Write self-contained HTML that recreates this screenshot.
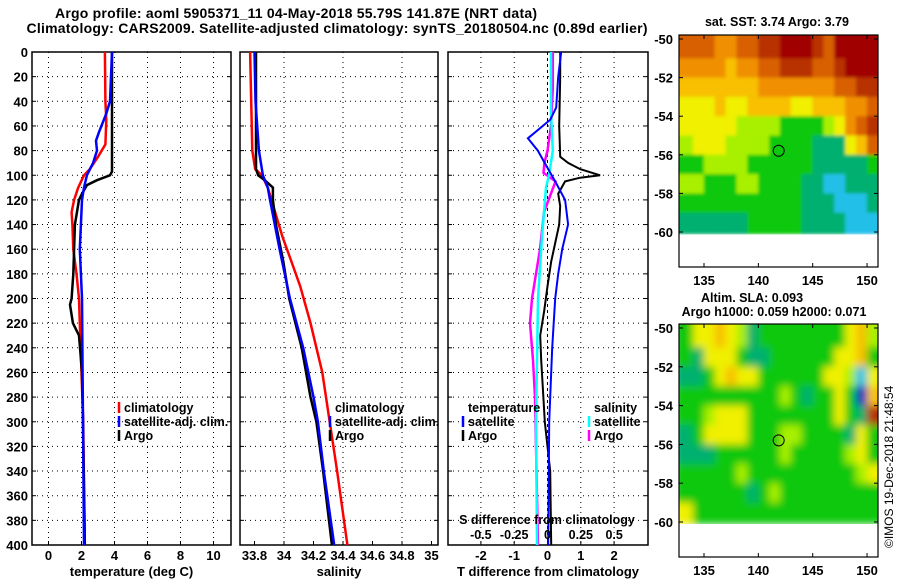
<!DOCTYPE html>
<html><head><meta charset="utf-8"><style>
body{margin:0;background:#fff}
svg{display:block;font-family:"Liberation Sans",sans-serif;font-weight:bold}
</style></head><body>
<svg id="s" width="900" height="580" viewBox="0 0 900 580" xmlns="http://www.w3.org/2000/svg">
<defs>
<filter id="blurA" x="-5%" y="-5%" width="110%" height="110%"><feGaussianBlur stdDeviation="1.5"/></filter>
<filter id="blurB" x="-5%" y="-5%" width="110%" height="110%"><feGaussianBlur stdDeviation="4"/></filter>
<clipPath id="clipA"><rect x="679" y="35" width="199" height="199.5"/></clipPath>
<clipPath id="clipB"><rect x="679" y="324" width="199" height="200"/></clipPath>
</defs>
<text x="296" y="18" font-size="14" text-anchor="middle" textLength="482">Argo profile: aoml 5905371_11 04-May-2018 55.79S 141.87E (NRT data)</text>
<text x="337" y="33" font-size="14" text-anchor="middle" textLength="621">Climatology: CARS2009. Satellite-adjusted climatology: synTS_20180504.nc (0.89d earlier)</text>
</svg>
<script>
// ---- data ----
const depthTicks=[0,20,40,60,80,100,120,140,160,180,200,220,240,260,280,300,320,340,360,380,400];
const tTicks=[0,2,4,6,8,10];
const sTicks=[33.8,34,34.2,34.4,34.6,34.8,35];
const sLabels=["33.8","34","34.2","34.4","34.6","34.8","35"];
const dTicks=[-2,-1,0,1,2];
const sdTicks=[-0.5,-0.25,0,0.25,0.5];
const sdLabels=["-0.5","-0.25","0","0.25","0.5"];
// temperature
const tClimD=[0,40,55,75,85,95,100,110,120,130,140,160,180,200,220,260,300,400];
const tClimV=[3.42,3.45,3.5,3.45,3.0,2.5,2.15,1.8,1.55,1.4,1.45,1.5,1.7,1.85,1.9,2.0,2.1,2.2];
const tSatD=[0,40,50,65,72,80,90,100,110,120,160,200,300,400];
const tSatV=[3.85,3.73,3.5,3.06,2.88,2.94,2.7,2.33,2.15,2.03,1.9,2.03,2.09,2.15];
const tArgoD=[0,97,100,104,108,115,120,140,160,180,200,205,220,230,240,260,300,400];
const tArgoV=[3.85,3.85,3.73,2.94,2.33,2.03,1.85,1.6,1.55,1.5,1.4,1.3,1.48,1.85,1.91,2.03,2.09,2.2];
// salinity
const sClimD=[0,80,95,100,110,130,150,170,190,220,260,300,340,400];
const sClimV=[33.77,33.785,33.805,33.85,33.89,33.94,33.99,34.05,34.11,34.18,34.26,34.31,34.36,34.43];
const sSatD=[0,40,80,100,110,120,160,200,240,280,300,340,400];
const sSatV=[33.8,33.807,33.83,33.857,33.89,33.905,33.97,34.04,34.13,34.2,34.23,34.27,34.34];
const sArgoD=[0,95,100,104,110,120,140,170,200,240,280,300,340,400];
const sArgoV=[33.81,33.81,33.825,33.87,33.925,33.925,33.945,33.995,34.035,34.12,34.18,34.22,34.265,34.325];
// differences
const dTArgoD=[0,20,60,85,90,95,100,102,105,115,125,140,155,170,190,210,230,250,300,340,400];
const dTArgoV=[0.38,0.38,0.35,0.38,0.62,0.98,1.58,0.98,0.53,0.32,0.38,0.35,0.23,0.11,0,-0.1,-0.22,-0.19,-0.08,0.08,0.11];
const dTSatD=[0,20,45,55,70,80,95,105,120,140,160,180,200,240,300,400];
const dTSatV=[0.41,0.32,0.26,0.08,-0.59,-0.29,0.02,0.23,0.53,0.62,0.44,0.32,0.23,0.14,0.05,0.02];
const dSArgoD=[0,30,60,80,90,98,105,130,160,200,220,250,280,400];
const dSArgoV=[0.04,0.04,0.026,0,-0.023,-0.03,0.06,-0.026,-0.056,-0.116,-0.131,-0.109,-0.094,-0.071];
const dSSatD=[0,50,80,100,110,150,200,250,300,400];
const dSSatV=[0.026,0.026,0.04,0.011,-0.011,-0.041,-0.071,-0.079,-0.086,-0.079];
// maps (colour class per 1x1 deg cell, rows -50..-60, cols 133..151)
const sstGrid=[
[8,8,8,7,7,8,8,9,9,10,10,10,9,8,10,10,10,10],
[7,7,7,7,6,7,7,8,8,9,9,9,8,8,9,10,10,10],
[6,6,6,6,6,6,6,7,7,7,7,7,7,7,8,8,9,9],
[5,5,5,6,5,5,6,6,6,6,5,5,6,6,6,7,7,8],
[5,5,5,5,5,4,4,4,4,3,3,3,3,4,5,7,8,9],
[4,5,5,5,4,4,4,4,3,3,3,3,2,2,2,5,6,8],
[3,3,4,4,4,4,3,3,3,3,3,3,2,2,2,2,2,3],
[4,4,3,3,3,4,4,3,3,3,3,2,2,1,1,2,2,2],
[3,3,3,3,3,3,3,3,3,3,3,2,2,2,1,1,1,2],
[2,2,2,2,2,2,3,3,3,3,3,2,2,2,2,1,1,1]];
const slaGrid=[
[3,5,5,6,5,4,2,3,3,3,3,3,3,3,3,5,6,4],
[3,2,5,5,5,3,2,2,3,3,3,3,3,3,5,5,6,3],
[2,2,3,5,6,5,5,3,3,3,3,3,3,5,5,4,1,5],
[3,3,3,3,3,3,3,3,3,4,3,2,3,3,5,3,0,6],
[3,3,4,5,5,5,3,3,3,3,3,3,3,3,5,3,2,9],
[2,3,5,5,5,5,3,3,3,4,4,3,3,3,3,2,5,3],
[2,2,2,3,3,3,3,3,3,4,3,3,3,3,3,4,5,3],
[3,3,3,3,3,4,3,3,3,3,3,3,3,3,3,3,4,5],
[3,3,3,3,3,3,2,3,4,3,3,3,3,3,3,3,3,3],
[5,3,3,3,3,3,3,3,3,3,3,3,3,3,3,3,3,3]];
const latTicks=[-50,-52,-54,-56,-58,-60];
const lonTicks=[135,140,145,150];
const argoLon=141.87, argoLat=-55.79;
const palette=["#0020c0","#20c0e8","#00b070","#10c810","#a8f000","#f0f000","#f8c000","#f09000","#d86000","#b83000","#a00000"];

const svg=document.getElementById('s');
const NS="http://www.w3.org/2000/svg";
function mk(tag,at,parent){const e=document.createElementNS(NS,tag);for(const k in at)e.setAttribute(k,at[k]);(parent||svg).appendChild(e);return e;}
const yD=d=>52+d*1.2325;

function panel(name,x0,x1,fx,ticks,labels,gridTicks,title){
  const g=mk('g',{});
  
  
  depthTicks.forEach(d=>{
    if(d>0&&d<400){const l=mk('line',{x1:x0,x2:x1,y1:yD(d),y2:yD(d),stroke:'#000','stroke-dasharray':'1,4'},g);
    
    }
    const t=mk('line',{x1:x0,x2:x0+4,y1:yD(d),y2:yD(d),stroke:'#000'},g);
    
    
    mk('line',{x1:x1-4,x2:x1,y1:yD(d),y2:yD(d),stroke:'#000'},g);
  });
  gridTicks.forEach(v=>{const x=fx(v);
    const l=mk('line',{x1:x,x2:x,y1:52,y2:545,stroke:'#000','stroke-dasharray':'1,4'},g);
    
    });
  ticks.forEach((v,i)=>{const x=fx(v);
    mk('line',{x1:x,x2:x,y1:541,y2:545,stroke:'#000'},g);
    const t=mk('text',{x:x,y:560,'font-size':13,'text-anchor':'middle'},g);t.textContent=labels[i];
    
    });
  const r=mk('rect',{x:x0,y:52,width:x1-x0,height:493,fill:'none',stroke:'#000','stroke-width':1.5},g);
  
  
  const tt=mk('text',{x:(x0+x1)/2,y:576,'font-size':13,'text-anchor':'middle'},g);tt.textContent=title;
  
  
  return g;
}
function line(g,name,D,V,fx,col,w){
  const p=mk('polyline',{points:D.map((d,i)=>fx(V[i]).toFixed(1)+','+yD(d).toFixed(1)).join(' '),fill:'none',stroke:col,'stroke-width':w},g);
  
  
}
function legend(g,x,y,items){
  items.forEach((it,i)=>{
    if(it[1]){const m=mk('line',{x1:x-5,x2:x-5,y1:y+i*14-10,y2:y+i*14+1,stroke:it[1],'stroke-width':2.5},g);
    
    }
    const t=mk('text',{x:x,y:y+i*14,'font-size':12.5},g);t.textContent=it[0];
    
    
  });
}
depthTicks.forEach(d=>{const t=mk('text',{x:28,y:yD(d)+5,'font-size':13,'text-anchor':'end'});t.textContent=d;
  
  });

const fT=v=>48.5+v*16.5;
const g1=panel('temperature-panel',32,231,fT,tTicks,tTicks.map(String),[0,2,4,6,8,10],'temperature (deg C)');
line(g1,'temp-climatology-line',tClimD,tClimV,fT,'#f00',2.5);
line(g1,'temp-argo-line',tArgoD,tArgoV,fT,'#000',2.5);
line(g1,'temp-satellite-line',tSatD,tSatV,fT,'#00f',2.5);
legend(g1,124,412,[['climatology','#f00'],['satellite-adj. clim.','#00f'],['Argo','#000']]);

const fS=v=>284+(v-34)*147.5;
const g2=panel('salinity-panel',240,438,fS,sTicks,sLabels,[34,34.4,34.8],'salinity');
line(g2,'sal-climatology-line',sClimD,sClimV,fS,'#f00',2.5);
line(g2,'sal-argo-line',sArgoD,sArgoV,fS,'#000',2.5);
line(g2,'sal-satellite-line',sSatD,sSatV,fS,'#00f',2.5);
legend(g2,335,412,[['climatology',null],['satellite-adj. clim.','#00f'],['Argo','#000']]);

const fD=v=>547.5+v*33.3;
const fSD=v=>547.5+v*133.3;
const g3=panel('difference-panel',448,648,fD,dTicks,dTicks.map(String),[-2,-1,1,2],'T difference from climatology');
const zl=mk('line',{x1:547.5,x2:547.5,y1:52,y2:545,stroke:'#000','stroke-dasharray':'3,3'},g3);


line(g3,'sdiff-argo-line',dSArgoD,dSArgoV,fSD,'#f0f',2.5);
line(g3,'sdiff-satellite-line',dSSatD,dSSatV,fSD,'#0ff',2.5);
line(g3,'tdiff-argo-line',dTArgoD,dTArgoV,fD,'#000',2);
line(g3,'tdiff-satellite-line',dTSatD,dTSatV,fD,'#00f',2);
legend(g3,468,412,[['temperature',null],['satellite','#00f'],['Argo','#000']]);
legend(g3,594,412,[['salinity',null],['satellite','#0ff'],['Argo','#f0f']]);
const sdt=mk('text',{x:547,y:524,'font-size':12.5,'text-anchor':'middle'},g3);sdt.textContent='S difference from climatology';


sdTicks.forEach((v,i)=>{const t=mk('text',{x:fSD(v),y:539,'font-size':12.5,'text-anchor':'middle'},g3);t.textContent=sdLabels[i];
  
  });

function map(name,grid,yTop,yLat50,yLat60,yBot,titles,clip,filt){
  const g=mk('g',{});
  
  
  const fx=lon=>704+(lon-135)*10.87;
  const fy=lat=>yLat50+(-50-lat)*(yLat60-yLat50)/10;
  const cg=mk('g',{'clip-path':'url(#'+clip+')'},g);
  const ig=mk('g',{filter:'url(#'+filt+')'},cg);
  grid.forEach((row,r)=>row.forEach((c,k)=>{
    const y0=r===0?yTop-8:fy(-50-r), y1=r===grid.length-1?fy(-60.1):fy(-51-r);
    const x0=k===0?fx(133)-8:fx(133+k)-0.2, w=k===row.length-1?20:fx(134+k)-x0+0.3;
    const cell=mk('rect',{x:x0,y:y0,width:w,height:y1-y0+0.3,fill:palette[c]},ig);
    
    
  }));
  const fr=mk('rect',{x:679,y:yTop,width:199,height:yBot-yTop,fill:'none',stroke:'#000','stroke-width':1.2},g);
  
  
  latTicks.forEach(l=>{const y=fy(l);mk('line',{x1:679,x2:683,y1:y,y2:y,stroke:'#000'},g);mk('line',{x1:874,x2:878,y1:y,y2:y,stroke:'#000'},g);
    const t=mk('text',{x:673,y:y+5,'font-size':13,'text-anchor':'end'},g);t.textContent=l;
    
    });
  lonTicks.forEach(l=>{const x=fx(l);mk('line',{x1:x,x2:x,y1:yBot-4,y2:yBot,stroke:'#000'},g);mk('line',{x1:x,x2:x,y1:yTop,y2:yTop+4,stroke:'#000'},g);
    const t=mk('text',{x:x,y:yBot+18,'font-size':13,'text-anchor':'middle'},g);t.textContent=l;
    
    });
  const c=mk('circle',{cx:fx(argoLon),cy:fy(argoLat),r:5.5,fill:'none',stroke:'#000','stroke-width':1},g);
  
  
  titles.forEach(t=>{const e=mk('text',{x:t[1],y:t[2],'font-size':12.5,'text-anchor':'middle'},g);e.textContent=t[0];
    
    });
}
map('sst-map',sstGrid,35,39,232,267,[['sat. SST: 3.74 Argo: 3.79',777,26]],'clipA','blurA');
map('sla-map',slaGrid,324,328,522,557,[['Altim. SLA: 0.093',752,302],['Argo h1000: 0.059 h2000: 0.071',774,316]],'clipB','blurB');
const im=mk('text',{x:0,y:0,'font-size':12,transform:'translate(893,548) rotate(-90)','font-weight':'normal'});
im.textContent='©IMOS 19-Dec-2018 21:48:54';


</script>
</body></html>
